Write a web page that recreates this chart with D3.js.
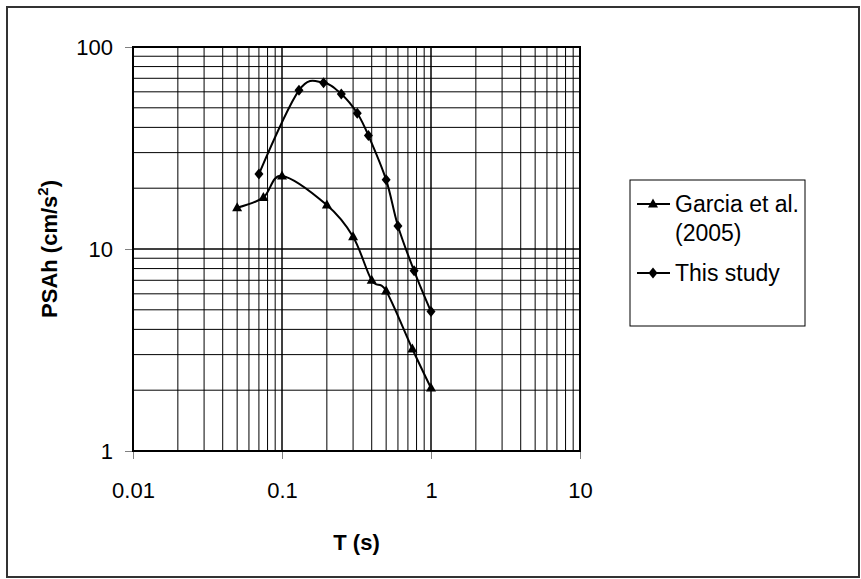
<!DOCTYPE html>
<html>
<head>
<meta charset="utf-8">
<script src="https://cdn.jsdelivr.net/npm/d3@7"></script>
<style>
  body { margin: 0; background: #fff; }
  text { font-family: "Liberation Sans", Arial, sans-serif; }
</style>
</head>
<body>
<div id="chart"></div>
<script>
// Data
var periods_garcia = [0.05, 0.075, 0.1, 0.2, 0.3, 0.4, 0.5, 0.75, 1.0];
var psa_garcia     = [16, 18, 23, 16.5, 11.5, 7, 6.2, 3.2, 2.05];
var periods_study  = [0.07, 0.13, 0.19, 0.25, 0.32, 0.38, 0.5, 0.6, 0.77, 1.0];
var psa_study      = [23.5, 61, 66.5, 58.5, 47, 36.5, 22, 13, 7.8, 4.9];
var x_ticks = [0.01, 0.1, 1, 10];
var y_ticks = [1, 10, 100];
var series_names = ["Garcia et al.|(2005)", "This study"];

var W = 861, H = 579;
var plot = {left: 133, right: 580, top: 47, bottom: 451};

var svg = d3.select("#chart").append("svg")
    .attr("width", W).attr("height", H);

// outer chart border
svg.append("rect").attr("x", 7).attr("y", 7).attr("width", 852).attr("height", 570)
    .attr("fill", "#fff").attr("stroke", "#333").attr("stroke-width", 2);

var xScale = d3.scaleLog().domain([0.01, 10]).range([plot.left, plot.right]);
var yScale = d3.scaleLog().domain([1, 100]).range([plot.bottom, plot.top]);

// gridlines, major + minor
var xGrid = [], yGrid = [];
[0.01, 0.1, 1].forEach(function(d) { for (var k = 1; k <= 10; k++) xGrid.push(d * k); });
[1, 10].forEach(function(d) { for (var k = 1; k <= 10; k++) yGrid.push(d * k); });

var grid = svg.append("g");
grid.selectAll(".gx").data(xGrid).enter().append("line")
    .attr("x1", function(d) { return xScale(d); }).attr("x2", function(d) { return xScale(d); })
    .attr("y1", plot.top).attr("y2", plot.bottom)
    .attr("stroke", "#000").attr("stroke-width", 1);
grid.selectAll(".gy").data(yGrid).enter().append("line")
    .attr("y1", function(d) { return yScale(d); }).attr("y2", function(d) { return yScale(d); })
    .attr("x1", plot.left).attr("x2", plot.right)
    .attr("stroke", "#000").attr("stroke-width", 1);

// axes (ticks + labels only)
var xAxis = d3.axisBottom(xScale).tickValues(x_ticks).tickSize(8).tickPadding(23)
    .tickFormat(function(d) { return String(d); });
var yAxis = d3.axisLeft(yScale).tickValues(y_ticks).tickSize(8).tickPadding(12)
    .tickFormat(function(d) { return String(d); });

var gx = svg.append("g").attr("transform", "translate(0," + plot.bottom + ")").call(xAxis);
var gy = svg.append("g").attr("transform", "translate(" + plot.left + ",0)").call(yAxis);
[gx, gy].forEach(function(g) {
  g.select(".domain").remove();
  g.selectAll("line").attr("stroke", "#808080");
  g.selectAll("text").attr("font-size", 22).attr("fill", "#000")
    .style("font-family", "'Liberation Sans', Arial, sans-serif");
});

// plot border
svg.append("rect").attr("x", plot.left).attr("y", plot.top)
    .attr("width", plot.right - plot.left).attr("height", plot.bottom - plot.top)
    .attr("fill", "none").attr("stroke", "#000").attr("stroke-width", 2);

// axis titles
svg.append("text").attr("x", (plot.left + plot.right) / 2).attr("y", 550)
    .attr("text-anchor", "middle").attr("font-size", 22).attr("font-weight", "bold")
    .text("T (s)");
var yt = svg.append("text").attr("transform", "translate(57," + ((plot.top + plot.bottom) / 2) + ") rotate(-90)")
    .attr("text-anchor", "middle").attr("font-size", 22).attr("font-weight", "bold");
yt.append("tspan").text("PSAh (cm/s");
yt.append("tspan").attr("dy", -9).attr("font-size", 15).text("2");
yt.append("tspan").attr("dy", 9).text(")");

// series
var line = d3.line()
    .x(function(d) { return xScale(d[0]); })
    .y(function(d) { return yScale(d[1]); })
    .curve(d3.curveCardinal.tension(0));

var garcia = d3.zip(periods_garcia, psa_garcia);
var study = d3.zip(periods_study, psa_study);

var triangle = "M0,-5.5L5,3.5L-5,3.5Z";
var diamond = "M0,-5.5L4.5,0L0,5.5L-4.5,0Z";

function drawSeries(data, shape) {
  svg.append("path").datum(data).attr("d", line)
      .attr("fill", "none").attr("stroke", "#000").attr("stroke-width", 2);
  svg.append("g").selectAll("path").data(data).enter().append("path")
      .attr("d", shape)
      .attr("transform", function(d) { return "translate(" + xScale(d[0]) + "," + yScale(d[1]) + ")"; })
      .attr("fill", "#000");
}
drawSeries(garcia, triangle);
drawSeries(study, diamond);

// legend
var lg = svg.append("g");
lg.append("rect").attr("x", 630).attr("y", 180).attr("width", 175).attr("height", 146)
    .attr("fill", "#fff").attr("stroke", "#000").attr("stroke-width", 1);
var legendRows = [{y: 204, shape: triangle}, {y: 273, shape: diamond}];
legendRows.forEach(function(r, i) {
  lg.append("line").attr("x1", 637).attr("x2", 670).attr("y1", r.y).attr("y2", r.y)
      .attr("stroke", "#000").attr("stroke-width", 2);
  lg.append("path").attr("d", r.shape).attr("transform", "translate(653," + r.y + ")").attr("fill", "#000");
  var parts = series_names[i].split("|");
  var t = lg.append("text").attr("x", 675).attr("y", r.y + 8).attr("font-size", 23);
  parts.forEach(function(p, j) {
    t.append("tspan").attr("x", 675).attr("dy", j === 0 ? 0 : 29).text(p);
  });
});
</script>
</body>
</html>
